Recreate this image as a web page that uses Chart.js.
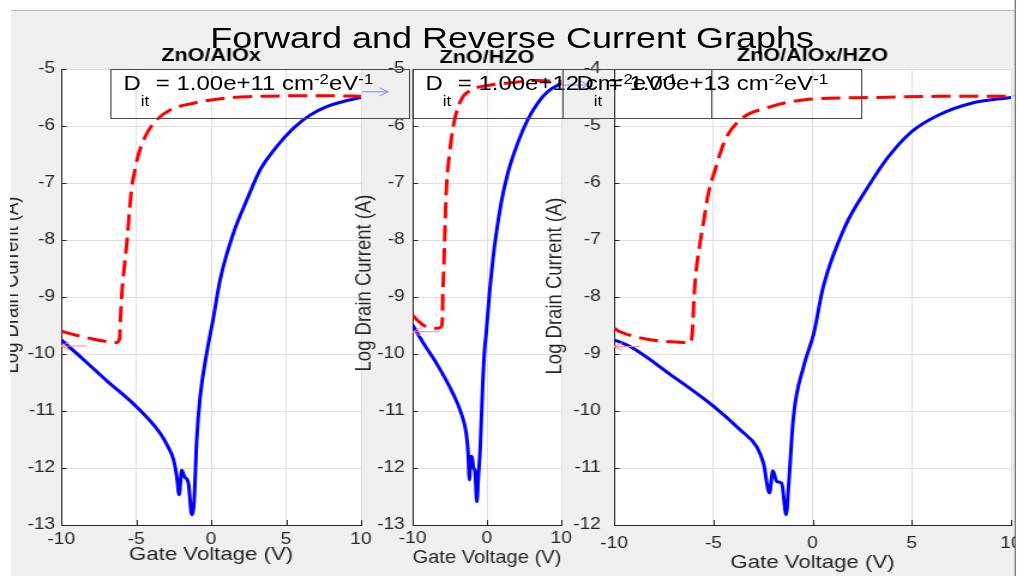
<!DOCTYPE html>
<html>
<head>
<meta charset="utf-8">
<script src="https://cdn.jsdelivr.net/npm/chart.js@4.4.1/dist/chart.umd.min.js"></script>
<style>
  html, body { margin: 0; padding: 0; background: #fff; overflow: hidden; }
  /* the whole figure is drawn 848px wide, then stretched to the 1017px window */
  #fig { position: absolute; left: 0; top: 0; width: 848px; height: 576px;
         transform: scaleX(1.1993); transform-origin: 0 0; }
  #panel { position: absolute; left: 9px; top: 10px; width: 837px; height: 566px;
           background: #f0f0f0; overflow: hidden; }
  #stage { position: absolute; left: -9px; top: -10px; width: 848px; height: 576px; }
  #stage canvas { position: absolute; left: 0; top: 0; }
  .topline { position: absolute; left: 9px; top: 10px; width: 837px; height: 1px; background: #b9b9b9; }
  .rightline { position: absolute; left: 846px; top: 0; width: 1px; height: 576px; background: #5f5f5f; }
  #title { position: absolute; top: 22.6px; left: 427px; transform: translateX(-50%);
           font: 30px "Liberation Sans", Arial, sans-serif; line-height: 30px;
           white-space: nowrap; color: #000; }
  .dit-box { position: absolute; top: 69px; height: 50px; width: 250px;
             border: 1px solid #4a4a4a; box-sizing: border-box; }
  .dit-text { position: absolute; top: 73px; font: 20px "Liberation Sans", Arial, sans-serif;
              line-height: 20px; white-space: nowrap; color: #000; }
  .dit-text .sub { font-size: 14px; position: relative; top: 16px; }
  .dit-text .sup { font-size: 14px; position: relative; top: -6px; }
</style>
</head>
<body>
<div id="fig">
  <div id="panel">
    <div id="stage">
      <canvas id="c1" width="848" height="576"></canvas>
      <canvas id="c2" width="848" height="576"></canvas>
      <canvas id="c3" width="848" height="576"></canvas>
      <div id="title">Forward and Reverse Current Graphs</div>
      <div id="boxes"></div>
    </div>
  </div>
  <div class="topline"></div>
  <div class="rightline"></div>
</div>

<script>
// ── Data ──────────────────────────────────────────────────────────────────────
const panelTitles = ["ZnO/AlOx", "ZnO/HZO", "ZnO/AlOx/HZO"];
const ditValues   = [1e11, 1e12, 1e13];

const xTicksWide   = [-10, -5, 0, 5, 10];
const xTicksNarrow = [-10, 0, 10];
const yTicksLow    = [-13, -12, -11, -10, -9, -8, -7, -6, -5];
const yTicksHigh   = [-12, -11, -10, -9, -8, -7, -6, -5, -4];

// ZnO/AlOx
const fwdV1 = [-10, -8.5, -7, -5, -3.4, -2.87, -2.5, -2.29, -2.13, -1.96,
               -1.78, -1.51, -1.29, -1.13, -0.96, -0.73, -0.29, 0.13, 0.6, 1.49,
               2.38, 3.27, 4.38, 5.49, 6.6, 7.71, 8.82, 10];
const fwdI1 = [-9.75, -10.1, -10.46, -10.92, -11.39, -11.63, -11.86, -12.15, -12.47, -12.04,
               -12.15, -12.27, -12.82, -12.56, -11.51, -10.75, -9.98, -9.4, -8.7, -7.88,
               -7.3, -6.77, -6.36, -6.04, -5.81, -5.66, -5.57, -5.5];
const revV1 = [-10, -9, -8, -7, -6.3, -6.1, -6.05, -5.95, -5.8, -5.62,
               -5.45, -5.29, -5.1, -4.95, -4.4, -3.73, -2.73, -1.18, 1.0, 3.3,
               5.5, 7.7, 10];
const revI1 = [-9.6, -9.67, -9.73, -9.78, -9.8, -9.72, -9.4, -8.93, -8.5, -8.05,
               -7.5, -7.07, -6.8, -6.6, -6.19, -5.92, -5.72, -5.6, -5.51, -5.48,
               -5.47, -5.47, -5.48];

// ZnO/HZO
const fwdV2 = [-10, -8.5, -6.8, -4.58, -3.46, -2.79, -2.55, -2.35, -2.2, -2.0,
               -1.81, -1.6, -1.36, -1.15, -0.91, -0.56, -0.3, -0.1, 0.34, 1.01,
               1.9, 2.8, 4.14, 5.48, 6.82, 8.16, 10];
const fwdI2 = [-9.49, -9.82, -10.16, -10.69, -11.04, -11.39, -11.7, -12.21, -11.8, -11.8,
               -12.0, -12.05, -12.59, -12.15, -11.68, -10.51, -9.9, -9.64, -8.94, -8.12,
               -7.36, -6.83, -6.3, -5.89, -5.6, -5.4, -5.25];
const revV2 = [-10, -9, -8.17, -6.6, -6.15, -6.0, -5.93, -5.8, -5.7, -5.48,
               -5.03, -4.45, -3.46, -2.12, 0.56, 3.24, 6.82, 10];
const revI2 = [-9.32, -9.45, -9.52, -9.55, -9.52, -9.4, -8.94, -8.5, -8.06, -7.18,
               -6.48, -5.95, -5.54, -5.37, -5.28, -5.24, -5.2, -5.22];

// ZnO/AlOx/HZO
const fwdV3 = [-10, -9.19, -7.0, -4.98, -3.65, -2.81, -2.47, -2.17, -2.0, -1.8,
               -1.55, -1.33, -1.21, -0.96, -0.45, 0.06, 0.54, 1.63, 2.81, 3.82,
               4.99, 6.33, 8.01, 10];
const fwdI3 = [-8.75, -8.87, -9.4, -9.92, -10.33, -10.63, -10.92, -11.44, -11.05, -11.24,
               -11.27, -11.82, -11.33, -10.1, -9.22, -8.64, -7.82, -6.77, -6.06, -5.54,
               -5.1, -4.81, -4.6, -4.5];
const revV3 = [-10, -9.7, -8.19, -6.5, -6.17, -6.05, -5.97, -5.85, -5.67, -5.45,
               -5.25, -4.91, -4.41, -3.57, -2.39, -0.38, 2.98, 6.33, 10];
const revI3 = [-8.55, -8.61, -8.75, -8.8, -8.81, -8.6, -8.0, -7.5, -7.06, -6.6,
               -6.18, -5.77, -5.25, -4.87, -4.69, -4.54, -4.5, -4.48, -4.48];

// annotation arrows: [from V, to V, log I]
const redArrow1  = [-8.3, -10, -9.86];
const blueArrow1 = [10.1, 11.8, -5.40];
const redArrow2  = [-6.4, -10, -9.61];
const blueArrow2 = [10.1, 13.7, -5.28];
const redArrow3  = [-8.7, -10, -8.87];
const blueArrow3 = [10.1, 11.2, -4.47];

// ── Look ──────────────────────────────────────────────────────────────────────
const FONT  = '"Liberation Sans", Arial, sans-serif';
const AXIS  = "#262626";
const GRID  = "#e0e0e0";
const BLUE  = "#0000ff";
const RED   = "#ff0000";

// plot-area placement inside the 848x576 stage (unstretched px)
const panels = [
  { id: "c1", title: panelTitles[0], left: 51,  right: 301, yMin: -13, yMax: -5,
    xTicks: xTicksWide,   yTicks: yTicksLow,  fwd: [fwdV1, fwdI1], rev: [revV1, revI1],
    red: redArrow1, blue: blueArrow1, titleY: 56, yPad: 5,  xTickPad: 5, xTitleY: 555, yTitleX: 10,  yTitleY: 285 },
  { id: "c2", title: panelTitles[1], left: 344, right: 468, yMin: -13, yMax: -5,
    xTicks: xTicksNarrow, yTicks: yTicksLow,  fwd: [fwdV2, fwdI2], rev: [revV2, revI2],
    red: redArrow2, blue: blueArrow2, titleY: 58, yPad: 6.5, xTickPad: 4, xTitleY: 558, yTitleX: 304, yTitleY: 283 },
  { id: "c3", title: panelTitles[2], left: 512, right: 843, yMin: -12, yMax: -4,
    xTicks: xTicksWide,   yTicks: yTicksHigh, fwd: [fwdV3, fwdI3], rev: [revV3, revI3],
    red: redArrow3, blue: blueArrow3, titleY: 56, yPad: 11, xTickPad: 9, xTitleY: 563, yTitleX: 463, yTitleY: 286 }
];

const boxLefts = [91.7, 343.5, 469.4];

// ── Helpers ───────────────────────────────────────────────────────────────────
function xy(vs, is) {
  return vs.map((v, i) => ({ x: v, y: is[i] }));
}

function ditLabel(v) {
  const [m, e] = v.toExponential(2).split("e");
  return `D<span class="sub">it</span> = ${m}e${e} cm<span class="sup">-2</span>eV<span class="sup">-1</span>`;
}

function drawArrow(ctx, x0, x1, y, color) {
  const dir = Math.sign(x1 - x0);
  ctx.save();
  ctx.strokeStyle = color;
  ctx.lineWidth = 1;
  ctx.beginPath();
  ctx.moveTo(x0, y);
  ctx.lineTo(x1, y);
  ctx.moveTo(x1 - dir * 7, y - 4);
  ctx.lineTo(x1, y);
  ctx.lineTo(x1 - dir * 7, y + 4);
  ctx.stroke();
  ctx.restore();
}

// ── Plugins ───────────────────────────────────────────────────────────────────
const plotBg = {
  id: "plotBg",
  beforeDraw(chart) {
    const { ctx, chartArea: a } = chart;
    ctx.save();
    ctx.fillStyle = "#ffffff";
    ctx.fillRect(a.left, a.top, a.right - a.left, a.bottom - a.top);
    ctx.restore();
  }
};

const inTicks = {
  id: "inTicks",
  afterDraw(chart) {
    const { ctx, chartArea: a, scales: { x, y } } = chart;
    ctx.save();
    ctx.strokeStyle = AXIS;
    ctx.lineWidth = 1;
    ctx.beginPath();
    x.ticks.forEach(t => {
      const px = Math.round(x.getPixelForValue(t.value)) + 0.5;
      ctx.moveTo(px, a.bottom);
      ctx.lineTo(px, a.bottom - 5);
    });
    y.ticks.forEach(t => {
      const py = Math.round(y.getPixelForValue(t.value)) + 0.5;
      ctx.moveTo(a.left, py);
      ctx.lineTo(a.left + 4.5, py);
    });
    ctx.stroke();
    ctx.restore();
  }
};

const arrows = {
  id: "arrows",
  afterDatasetsDraw(chart, args, opts) {
    const { ctx, scales: { x, y } } = chart;
    [[opts.red, "#ff8080"], [opts.blue, "#8080ff"]].forEach(([a, c]) => {
      drawArrow(ctx, x.getPixelForValue(a[0]), x.getPixelForValue(a[1]),
                y.getPixelForValue(a[2]), c);
    });
  }
};

const yTitle = {
  id: "yTitle",
  afterDraw(chart, args, opts) {
    const ctx = chart.ctx;
    ctx.save();
    ctx.translate(opts.x, opts.y);
    ctx.rotate(-Math.PI / 2);
    ctx.font = `18.5px ${FONT}`;
    ctx.fillStyle = AXIS;
    ctx.textAlign = "center";
    ctx.textBaseline = "middle";
    ctx.fillText(opts.text, 0, 0);
    ctx.restore();
  }
};

// ── Build ─────────────────────────────────────────────────────────────────────
Chart.defaults.font.family = FONT;
Chart.defaults.color = AXIS;

function buildPanel(p) {
  const titleLine = 18 * 1.2;
  const titleTop  = p.titleY - titleLine / 2;
  const xAxisH    = 50;

  new Chart(document.getElementById(p.id), {
    type: "line",
    data: {
      datasets: [
        {
          label:       "Reverse",
          data:        xy(p.rev[0], p.rev[1]),
          borderColor: RED,
          borderWidth: 3,
          borderDash:  [16, 7],
          pointRadius: 0,
          cubicInterpolationMode: "monotone",
          fill:        false
        },
        {
          label:       "Forward",
          data:        xy(p.fwd[0], p.fwd[1]),
          borderColor: BLUE,
          borderWidth: 3,
          pointRadius: 0,
          cubicInterpolationMode: "monotone",
          fill:        false
        }
      ]
    },
    options: {
      responsive: false,
      animation:  false,
      events:     [],
      layout: { padding: { left: 0, top: 0, right: 848 - p.right, bottom: 576 - 525 - xAxisH } },
      plugins: {
        legend:  { display: false },
        tooltip: { enabled: false },
        title: {
          display:  true,
          fullSize: false,
          text:     p.title,
          color:    "#000",
          font:     { size: 18, weight: "bold" },
          padding:  { top: titleTop, bottom: 69 - titleTop - titleLine }
        },
        arrows: { red: p.red, blue: p.blue },
        yTitle: { text: "Log Drain Current (A)", x: p.yTitleX, y: p.yTitleY }
      },
      scales: {
        x: {
          type: "linear",
          min:  -10,
          max:  10,
          afterBuildTicks: s => { s.ticks = p.xTicks.map(v => ({ value: v })); },
          afterFit: s => { s.height = xAxisH; s.paddingLeft = 0; s.paddingRight = 0; },
          ticks:  { font: { size: 16 }, color: AXIS, padding: p.xTickPad, maxRotation: 0,
                    callback: v => String(v) },
          grid:   { color: GRID, lineWidth: 1, drawTicks: false },
          border: { display: true, color: AXIS, width: 1 },
          title:  { display: true, text: "Gate Voltage (V)", color: AXIS,
                    font: { size: 18.5 },
                    padding: { top: 0, bottom: 525 + xAxisH - p.xTitleY - 18.5 * 1.2 / 2 } }
        },
        y: {
          type: "linear",
          min:  p.yMin,
          max:  p.yMax,
          afterBuildTicks: s => { s.ticks = p.yTicks.map(v => ({ value: v })); },
          afterFit: s => { s.width = p.left; s.paddingTop = 0; s.paddingBottom = 0; },
          ticks:  { font: { size: 16 }, color: AXIS, padding: p.yPad,
                    callback: v => String(v) },
          grid:   { color: GRID, lineWidth: 1, drawTicks: false },
          border: { display: true, color: AXIS, width: 1 }
        }
      }
    },
    plugins: [plotBg, inTicks, arrows, yTitle]
  });
}

panels.forEach(buildPanel);

// D_it annotation boxes
document.getElementById("boxes").innerHTML = ditValues.map((v, i) => `
  <div class="dit-box" style="left:${boxLefts[i]}px"></div>
  <div class="dit-text" style="left:${boxLefts[i] + 11.2}px">${ditLabel(v)}</div>`).join("");
</script>
</body>
</html>
